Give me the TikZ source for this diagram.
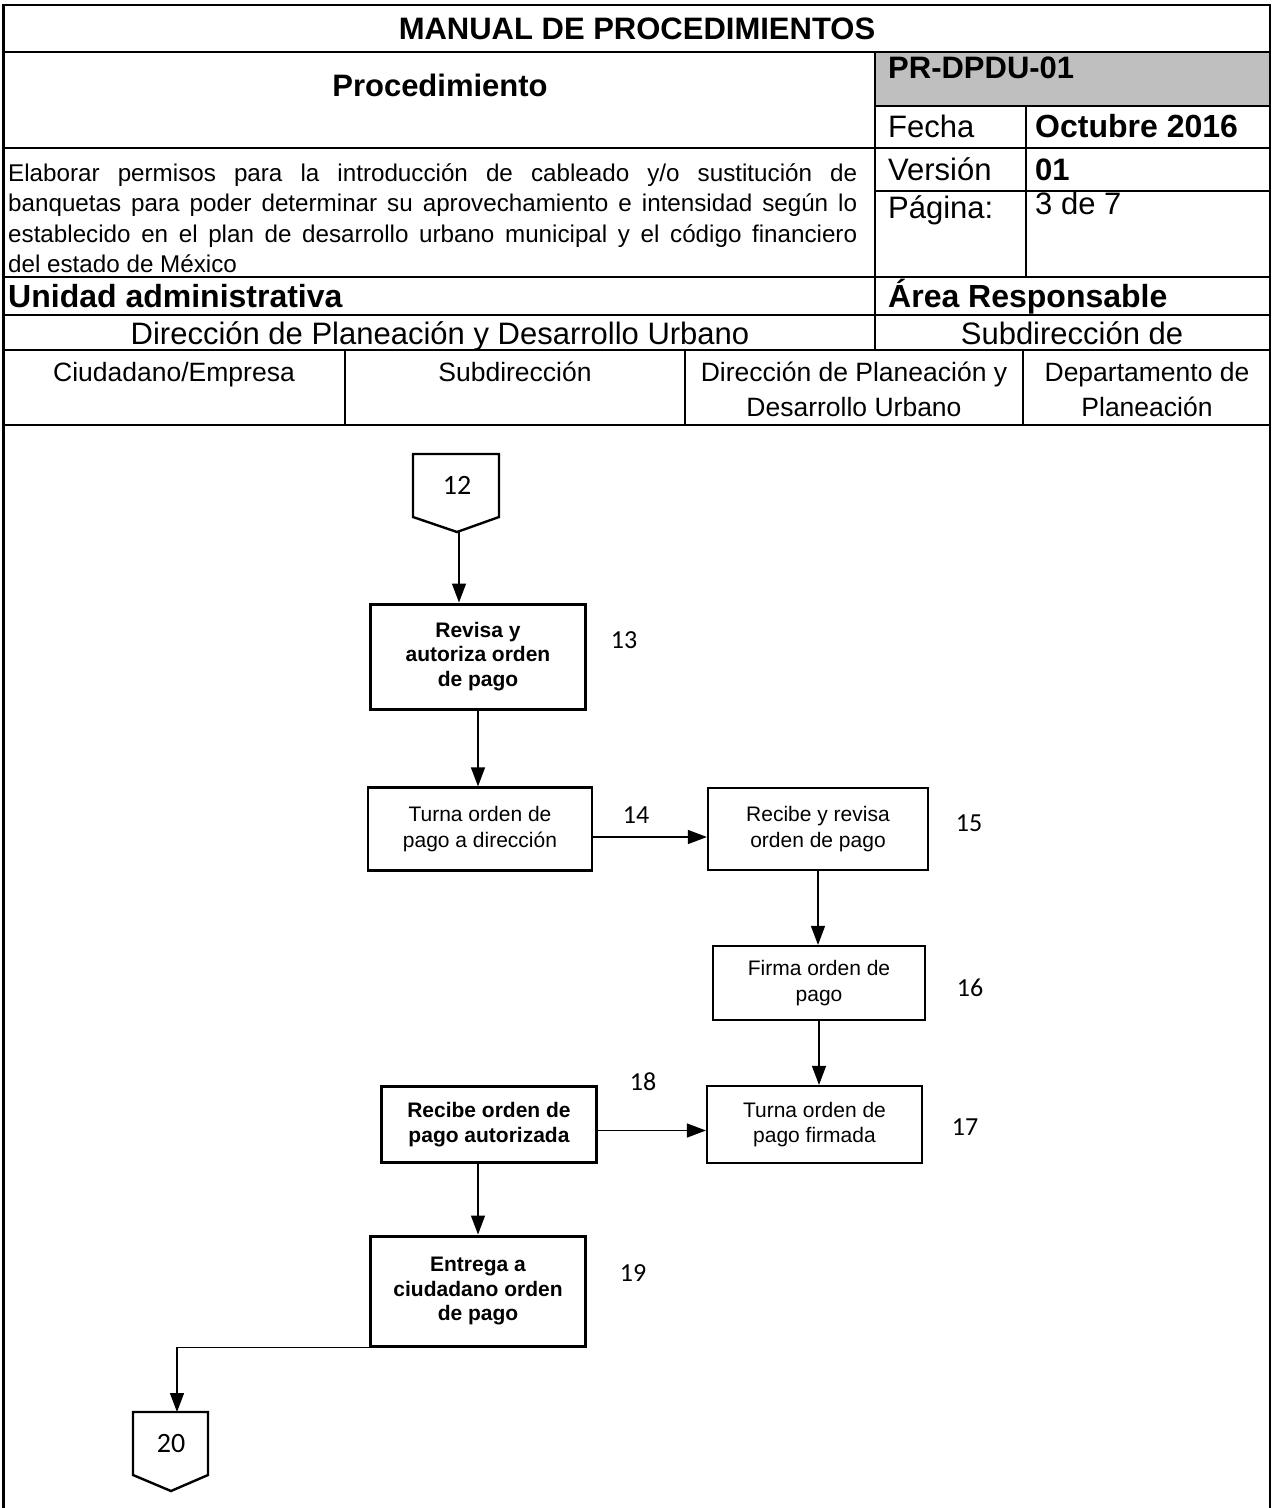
\documentclass[tikz,border=0pt]{standalone}
\usepackage{fontspec}
\setmainfont{Liberation Sans}
\newfontfamily\numfont{Carlito}
\usetikzlibrary{arrows.meta}
\definecolor{headgray}{HTML}{BFBFBF}

\begin{document}
\begin{tikzpicture}[x=1pt,y=-1pt,
  every node/.style={inner sep=0pt},
  grid/.style={line width=2.6pt},
  tbig/.style={font=\fontsize{31}{37}\selectfont},
  tbigb/.style={font=\bfseries\fontsize{31}{37}\selectfont},
  tbigbb/.style={font=\bfseries\fontsize{32}{38}\selectfont},
  desc/.style={font=\fontsize{24.2}{30}\selectfont, anchor=base west},
  lane/.style={font=\fontsize{26.5}{35}\selectfont, anchor=base},
  procbox/.style={draw, line width=2.2pt, align=center, font=\fontsize{21}{25.5}\selectfont},
  procboxb/.style={procbox, line width=3pt, font=\bfseries\fontsize{21}{24.5}\selectfont},
  stepnum/.style={font=\numfont\fontsize{26}{30}\selectfont},
  pagenum/.style={font=\numfont\fontsize{28}{32}\selectfont},
  arr/.style={line width=1.3pt, -{Triangle[length=19pt,width=14pt]}},
  offpage/.style={line width=2.4pt, line join=miter}
]
\useasboundingbox (0,0) rectangle (1273,1508);

% ---------- header table ----------
\fill[headgray] (875,52) rectangle (1270,106);
\draw[grid] (3.5,1508) -- (3.5,5) -- (1270,5) -- (1270,1508);
\draw[grid] (3.5,52) -- (1270,52);
\draw[grid] (875,106) -- (1270,106);
\draw[grid] (3.5,148) -- (1270,148);
\draw[grid] (875,191) -- (1270,191);
\draw[grid] (3.5,277) -- (1270,277);
\draw[grid] (3.5,315) -- (1270,315);
\draw[grid] (3.5,350) -- (1270,350);
\draw[grid] (3.5,425) -- (1270,425);
\draw[grid] (875,52) -- (875,350);
\draw[grid] (1026,106) -- (1026,277);
\draw[grid] (345,350) -- (345,425);
\draw[grid] (685,350) -- (685,425);
\draw[grid] (1023,350) -- (1023,425);

\node[tbigb, anchor=base] (title) at (637,39) {MANUAL DE PROCEDIMIENTOS};
\node[tbigb, anchor=base] (proc) at (440,96) {Procedimiento};
\node[tbigb, anchor=base west] (code) at (888,78) {PR-DPDU-01};
\node[tbig, anchor=base west] (fecha) at (888,137) {Fecha};
\node[tbigbb, anchor=base west] (fechaval) at (1035,137) {Octubre 2016};
\node[tbig, anchor=base west] (version) at (888,180) {Versión};
\node[tbigb, anchor=base west] (versionval) at (1035,180) {01};
\node[tbig, anchor=base west] (pagina) at (888,218) {Página:};
\node[tbig, anchor=base west] (paginaval) at (1035,214) {3 de 7};

\node[desc] (d1) at (8,181) {\makebox[849pt][s]{Elaborar permisos para la introducción de cableado y/o sustitución de}};
\node[desc] (d2) at (8,211.5) {\makebox[849pt][s]{banquetas para poder determinar su aprovechamiento e intensidad según lo}};
\node[desc] (d3) at (8,242) {\makebox[849pt][s]{establecido en el plan de desarrollo urbano municipal y el código financiero}};
\node[desc] (d4) at (8,272) {del estado de México};

\node[tbigbb, anchor=base west] (unidad) at (8,307) {Unidad administrativa};
\node[tbigbb, anchor=base west] (area) at (888,307) {Área Responsable};
\node[tbig, anchor=base] (dir) at (440,344) {Dirección de Planeación y Desarrollo Urbano};
\node[tbig, anchor=base] (subd) at (1072,344) {Subdirección de};

\node[lane] (l1) at (174,381) {Ciudadano/Empresa};
\node[lane] (l2) at (515,381) {Subdirección};
\node[lane] (l3a) at (854,381) {Dirección de Planeación y};
\node[lane] (l3b) at (854,416) {Desarrollo Urbano};
\node[lane] (l4a) at (1147,381) {Departamento de};
\node[lane] (l4b) at (1147,416) {Planeación};

% ---------- flow ----------
\draw[offpage] (413,454) -- (499,454) -- (499,517) -- (457,532) -- (413,517) -- cycle;
\node[pagenum] (c12) at (457,485) {12};
\coordinate (c12tip) at (459,532);

\node[procboxb, minimum width=215pt, minimum height=105pt] (b13) at (478,656.5) {Revisa y\\autoriza orden\\de pago};
\node[procbox, minimum width=224pt, minimum height=83pt] (b14) at (480,829) {Turna orden de\\pago a dirección};
\node[procbox, minimum width=220pt, minimum height=82pt] (b15) at (818,829) {Recibe y revisa\\orden de pago};
\node[procbox, minimum width=212pt, minimum height=74pt] (b16) at (819,983) {Firma orden de\\pago};
\node[procbox, minimum width=215pt, minimum height=77pt] (b17) at (814.5,1124.5) {Turna orden de\\pago firmada};
\node[procboxb, minimum width=215pt, minimum height=76pt] (b18) at (489,1124.5) {Recibe orden de\\pago autorizada};
\node[procboxb, minimum width=215pt, minimum height=110pt] (b19) at (478,1291) {Entrega a\\ciudadano orden\\de pago};

\draw[offpage] (133,1412) -- (208,1412) -- (208,1475) -- (171,1491) -- (133,1475) -- cycle;
\node[pagenum] (c20) at (171,1443) {20};
\coordinate (c20top) at (177,1412);

\node[stepnum] (n13) at (624,640) {13};
\node[stepnum] (n14) at (636,815) {14};
\node[stepnum] (n15) at (969,823) {15};
\node[stepnum] (n16) at (970,988) {16};
\node[stepnum] (n17) at (965,1127) {17};
\node[stepnum] (n18) at (643,1082) {18};
\node[stepnum] (n19) at (633,1273) {19};

\draw[arr] (c12tip) -- (c12tip |- b13.north);
\draw[arr] (b13.south) -- (b13.south |- b14.north);
\draw[arr] ([yshift=-8pt]b14.east) -- ([yshift=-8pt]b14.east -| b15.west);
\draw[arr] (b15.south) -- (b15.south |- b16.north);
\draw[arr] (b16.south) -- (b16.south |- b17.north);
\draw[arr] ([yshift=-6pt]b18.east) -- ([yshift=-6pt]b18.east -| b17.west);
\draw[arr] (b19.north |- b18.south) -- (b19.north);
\draw[arr] (b19.south west) -- (c20top |- b19.south west) -- (c20top);
\end{tikzpicture}
\end{document}
